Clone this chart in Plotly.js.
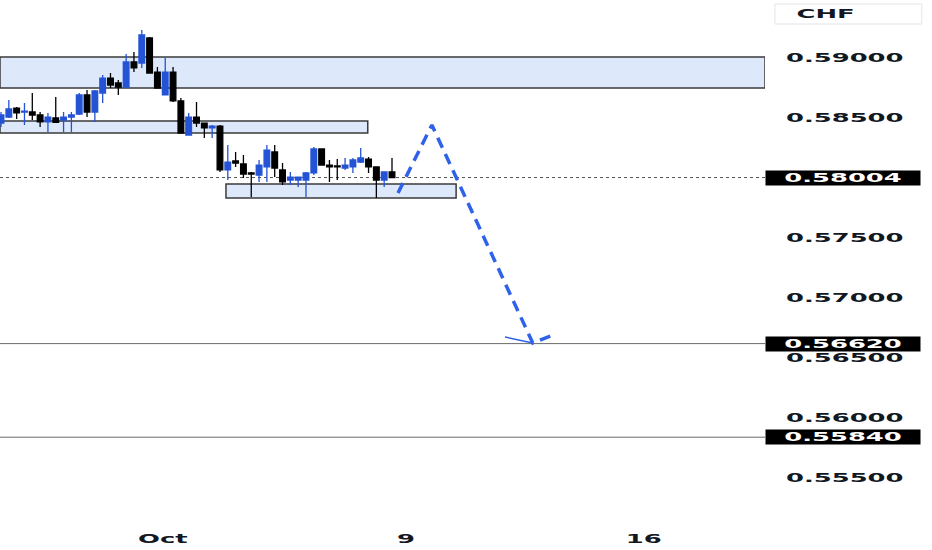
<!DOCTYPE html>
<html>
<head>
<meta charset="utf-8">
<script src="https://cdn.plot.ly/plotly-3.0.1.min.js"></script>
<style>
  html, body { margin: 0; padding: 0; background: #fff; }
  #chart { width: 932px; height: 550px; }
</style>
</head>
<body>
<div id="chart"></div>
<script>
// ---- candle data (4h bars, USD/CHF) ----
const openP  = [0.58458,0.58508,0.58583,0.58550,0.58550,0.58525,0.58467,0.58500,0.58483,0.58508,
                0.58533,0.58692,0.58550,0.58708,0.58833,0.58792,0.58758,0.58967,0.58958,0.59167,
                0.58883,0.58692,0.58883,0.58642,0.58358,0.58508,0.58458,0.58417,0.58433,0.58067,
                0.58142,0.58117,0.58042,0.58025,0.58092,0.58217,0.58067,0.57983,0.57983,0.57983,
                0.58042,0.58242,0.58108,0.58100,0.58083,0.58092,0.58133,0.58158,0.58092,0.57983,
                0.58050];
const highP  = [0.58550,0.58650,0.58592,0.58625,0.58708,0.58550,0.58542,0.58675,0.58550,0.58550,
                0.58708,0.58733,0.58733,0.58858,0.58875,0.58817,0.59033,0.59050,0.59233,0.59175,
                0.58925,0.59000,0.58925,0.58667,0.58542,0.58633,0.58458,0.58442,0.58442,0.58275,
                0.58217,0.58192,0.58050,0.58150,0.58275,0.58275,0.58125,0.58050,0.58008,0.58050,
                0.58258,0.58242,0.58150,0.58158,0.58167,0.58167,0.58250,0.58175,0.58092,0.58050,
                0.58167];
const lowP   = [0.58425,0.58500,0.58492,0.58442,0.58483,0.58425,0.58383,0.58467,0.58383,0.58383,
                0.58525,0.58508,0.58467,0.58625,0.58750,0.58692,0.58758,0.58883,0.58917,0.58875,
                0.58750,0.58692,0.58633,0.58375,0.58358,0.58425,0.58333,0.58333,0.58050,0.57983,
                0.58092,0.58000,0.57842,0.57967,0.57967,0.58008,0.57942,0.57942,0.57925,0.57842,
                0.58025,0.58108,0.57967,0.57983,0.58067,0.58042,0.58125,0.58042,0.57833,0.57925,
                0.58000];
const closeP = [0.58525,0.58575,0.58542,0.58558,0.58525,0.58467,0.58508,0.58463,0.58508,0.58525,
                0.58692,0.58550,0.58725,0.58833,0.58775,0.58758,0.58967,0.58917,0.59192,0.58875,
                0.58750,0.58883,0.58642,0.58375,0.58508,0.58458,0.58417,0.58433,0.58067,0.58133,
                0.58125,0.58033,0.58033,0.58108,0.58233,0.58083,0.57967,0.58008,0.58008,0.58042,
                0.58242,0.58108,0.58092,0.58092,0.58108,0.58150,0.58167,0.58092,0.57983,0.58050,
                0.58004];

// ---- axis ticks ----
const xTickVals = [20.7, 51.8, 82.2];
const xTickText = ['Oct', '9', '16'];
const yTickVals = [0.555, 0.560, 0.565, 0.570, 0.575, 0.585, 0.590];
const xRange = [-0.13, 97.7];
const yRange = [0.5515, 0.594833];

// ---- levels and zones ----
const lastPrice = 0.58004;
const targetLevels = [0.5662, 0.5584];
const zoneTop    = [0.59008, 0.58475, 0.57950];
const zoneBottom = [0.58750, 0.58375, 0.57833];
const zoneStart  = [-0.13, -0.13, 28.77];
const zoneEnd    = [97.7, 46.9, 58.2];

// ---- projected path (drawing) ----
const projX = [50.77, 55.1, 68.0, 70.6];
const projY = [0.57875, 0.58442, 0.56625, 0.56692];
const tickX = [64.45, 68.0];
const tickY = [0.56675, 0.56625];

const xIdx = openP.map((_, i) => i);
const blue = '#2453d6';
const projBlue = '#2f62ea';

const traces = [
  {
    type: 'candlestick',
    x: xIdx, open: openP, high: highP, low: lowP, close: closeP,
    increasing: { line: { color: blue, width: 1.3 }, fillcolor: blue },
    decreasing: { line: { color: '#000000', width: 1.3 }, fillcolor: '#000000' },
    whiskerwidth: 0,
    hoverinfo: 'skip'
  },
  {
    type: 'scatter', mode: 'lines', x: projX, y: projY,
    line: { color: projBlue, width: 3.5, dash: '11px,7px' },
    hoverinfo: 'skip'
  },
  {
    type: 'scatter', mode: 'lines', x: tickX, y: tickY,
    line: { color: projBlue, width: 1.5 },
    hoverinfo: 'skip'
  }
];

const shapes = [];
zoneTop.forEach((t, i) => {
  shapes.push({
    type: 'rect', layer: 'below', xref: 'x', yref: 'y',
    x0: zoneStart[i], x1: zoneEnd[i], y0: zoneBottom[i], y1: t,
    fillcolor: '#dde8fb', line: { color: '#3a3a3a', width: 1.5 }
  });
});
shapes.push({
  type: 'line', layer: 'below', xref: 'paper', yref: 'y',
  x0: 0, x1: 1, y0: lastPrice, y1: lastPrice,
  line: { color: '#555', width: 1, dash: 'dot' }
});
targetLevels.forEach(v => {
  shapes.push({
    type: 'line', layer: 'below', xref: 'paper', yref: 'y',
    x0: 0, x1: 1, y0: v, y1: v,
    line: { color: '#6b6b6b', width: 1 }
  });
});
// CHF box
shapes.push({
  type: 'rect', xref: 'paper', yref: 'paper',
  x0: 1.013, x1: 1.205, y0: 0.9538, y1: 0.9923,
  line: { color: '#e3e5ea', width: 1 }, fillcolor: 'rgba(0,0,0,0)'
});

const boxFont = { family: 'DejaVu Sans', size: 12, color: '#ffffff', weight: 'bold' };
const annotations = [lastPrice].concat(targetLevels).map(v => ({
  xref: 'paper', yref: 'y', x: 1, y: v, xanchor: 'left', yanchor: 'middle',
  text: v.toFixed(5), showarrow: false, bgcolor: '#000000',
  width: 150, height: 10, borderpad: 2, align: 'center', font: boxFont
}));
annotations.push({
  xref: 'paper', yref: 'paper', x: 1.0797, y: 0.973, xanchor: 'center', yanchor: 'middle',
  text: 'CHF', showarrow: false,
  font: { family: 'DejaVu Sans', size: 12, color: '#131722', weight: 'bold' }
});

const tickFont = { family: 'DejaVu Sans', size: 12, color: '#131722', weight: 'bold' };

const layout = {
  width: 932, height: 550,
  margin: { l: 0, r: 167, t: 0, b: 30 },
  paper_bgcolor: '#ffffff', plot_bgcolor: '#ffffff',
  showlegend: false,
  boxgap: 0.15, boxgroupgap: 0.15,
  xaxis: {
    range: xRange, showgrid: false, zeroline: false, showline: false,
    tickvals: xTickVals, ticktext: xTickText, ticks: '',
    tickfont: tickFont, rangeslider: { visible: false }, fixedrange: true,
    ticklabelstandoff: 10
  },
  yaxis: {
    side: 'right', range: yRange, showgrid: false, zeroline: false, showline: false,
    tickvals: yTickVals, ticktext: yTickVals.map(v => v.toFixed(5)), ticks: '',
    tickfont: tickFont, ticklabelstandoff: 20, fixedrange: true
  },
  shapes: shapes,
  annotations: annotations
};

Plotly.newPlot('chart', traces, layout, { displayModeBar: false, staticPlot: true }).then(gd => {
  // the reference uses a very wide (extended) typeface: stretch glyphs horizontally
  const k = 2.15;
  gd.querySelectorAll('.ytick text, .xtick text, .annotation-text').forEach(t => {
    const w = t.getComputedTextLength();
    t.setAttribute('textLength', (w * k).toFixed(1));
    t.setAttribute('lengthAdjust', 'spacingAndGlyphs');
  });
});
</script>
</body>
</html>
